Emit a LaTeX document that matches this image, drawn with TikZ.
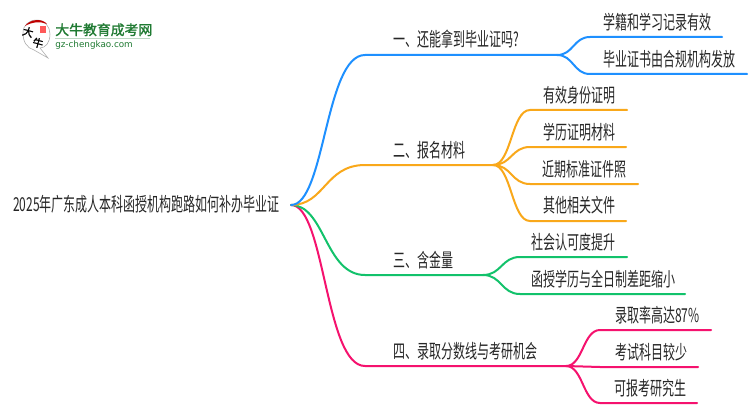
\documentclass[tikz,border=0pt]{standalone}
\usepackage{fontspec}
\setmainfont{Noto Sans CJK SC}[FakeStretch=0.625]
\newfontfamily\logofont{Noto Sans CJK SC}[FakeBold=1.5]
\newfontfamily\latinlogo{DejaVu Sans}
\definecolor{cblue}{HTML}{1E90FF}
\definecolor{corange}{HTML}{F9A81A}
\definecolor{cgreen}{HTML}{12C26B}
\definecolor{cpink}{HTML}{F5126E}
\definecolor{ctext}{HTML}{262626}
\definecolor{lgreen}{HTML}{1F7A32}
\tikzset{
  x=0.75pt,y=-0.75pt,
  lab/.style={font=\fontsize{14.4pt}{17pt}\selectfont,text=ctext,inner sep=0pt,anchor=base west},
  wire/.style={line width=1.5pt,line cap=round},
  pt/.style={inner sep=0pt,minimum size=0pt},
}
\begin{document}
\begin{tikzpicture}
\useasboundingbox (0,0) rectangle (750,410);
\fill[white] (0,0) rectangle (750,410);
% root
\node[lab] (root) at (13,211.5) {2025年广东成人本科函授机构跑路如何补办毕业证};
\coordinate (o) at (291,205);
% level 1 joints
\coordinate (a2) at (557,55);
\coordinate (b2) at (493,165);
\coordinate (c2) at (483,275);
\coordinate (d2) at (566,366);
% main connectors
\draw[wire,cpink] (o) .. controls (325,205) and (325,366) .. (365,366) -- (d2);
\draw[wire,cgreen] (o) .. controls (325,205) and (325,275) .. (365,275) -- (c2);
\draw[wire,corange] (o) .. controls (325,205) and (325,165) .. (365,165) -- (b2);
\draw[wire,cblue] (o) .. controls (325,205) and (325,55) .. (365,55) -- (a2);
% labels
\node[lab] (n1) at (393,46.5) {一、还能拿到毕业证吗?};
\node[lab] (n2) at (393,157.5) {二、报名材料};
\node[lab] (n3) at (393,267.5) {三、含金量};
\node[lab] (n4) at (393,358.5) {四、录取分数线与考研机会};
\node[lab] (a1t) at (603,29.5) {学籍和学习记录有效};
\node[lab] (a2t) at (603,66.5) {毕业证书由合规机构发放};
\node[lab] (b1t) at (543,102.5) {有效身份证明};
\node[lab] (b2t) at (543,139.5) {学历证明材料};
\node[lab] (b3t) at (542,176.5) {近期标准证件照};
\node[lab] (b4t) at (543,212.5) {其他相关文件};
\node[lab] (c1t) at (531,249.5) {社会认可度提升};
\node[lab] (c2t) at (531,286.5) {函授学历与全日制差距缩小};
\node[lab] (d1t) at (615,322.5) {录取率高达87\%};
\node[lab] (d2t) at (615,359.5) {考试科目较少};
\node[lab] (d3t) at (614,395.5) {可报考研究生};
% children
\foreach \e/\ex/\ey/\x/\y/\xe/\col in {a2/557/55/590/37/722/cblue,a2/557/55/590/74/747/cblue,
  b2/493/165/530/110/627/corange,b2/493/165/530/147/626/corange,b2/493/165/530/184/638/corange,b2/493/165/530/221/626/corange,
  c2/483/275/520/257/627/cgreen,c2/483/275/520/294/685/cgreen,
  d2/566/366/600/330/711/cpink,d2/566/366/600/367/698/cpink,d2/566/366/600/403/697/cpink}{
  \pgfmathsetmacro{\xa}{\ex+0.5*(\x-\ex)}
  \draw[wire,\col] (\e) .. controls (\xa,\ey) and (\xa,\y) .. (\x,\y) -- (\xe,\y);
}
% logo
\fill[white,draw=black!35,line width=0.4pt] (23,33) .. controls (23,25) and (29,20) .. (37,20) .. controls (45,20) and (50,27) .. (50,34) .. controls (50,42) and (46,48) .. (40,48) -- (48,58) -- (34,50) .. controls (27,48) and (23,42) .. (23,33) -- cycle;
\fill[red!75!black] (25,26) .. controls (30,19) and (42,18) .. (47,24) .. controls (40,21) and (32,22) .. (25,26) -- cycle;
\fill[red!65!white] (40,26) rectangle (46,33);
\node[pt,font=\fontsize{8pt}{8pt}\selectfont\logofont,text=black,rotate=-15] (l1) at (28,32) {大};
\node[pt,font=\fontsize{8pt}{8pt}\selectfont\logofont,text=black,rotate=-15] (l2) at (38,43) {牛};
\node[pt,anchor=base west,font=\fontsize{10.4pt}{12pt}\selectfont\logofont,text=lgreen] (lt) at (55,35) {大牛教育成考网};
\draw[lgreen!30,line width=0.5pt] (55,38.5) -- (150,38.5);
\node[pt,anchor=base west,font=\fontsize{6.6pt}{8pt}\selectfont\latinlogo,text=lgreen] (lu) at (55,48) {gz-chengkao.com};
\end{tikzpicture}
\end{document}
